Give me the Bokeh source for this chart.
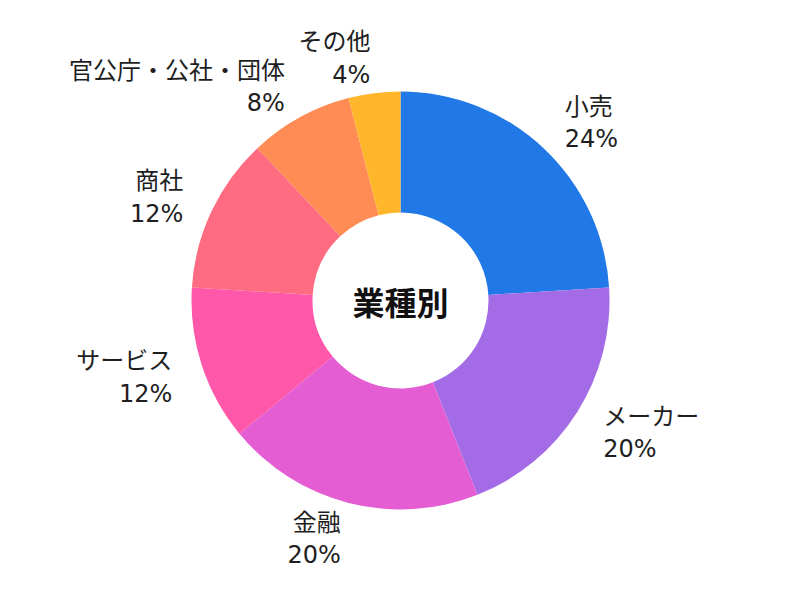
import numpy as np
from bokeh.plotting import figure
from bokeh.models import ColumnDataSource, Range1d
from bokeh.embed import file_html
from bokeh.resources import INLINE
from bokeh.core.properties import value

# ---- data ----
categories = ["小売", "メーカー", "金融", "サービス", "商社", "官公庁・公社・団体", "その他"]
shares = [24, 20, 20, 12, 12, 8, 4]
colors = ["#2079E6", "#A36CE6", "#E45DD3", "#FF57AA", "#FF6B80", "#FF8C55", "#FFB62A"]
center_title = "業種別"

# ---- geometry (pixel-like data units) ----
CX, CY = 400, 300
R_OUT, R_IN = 209, 88
LAB_RX, LAB_RY = 240, 245
LINE_GAP = 17.5
FONT = "Noto Sans CJK JP"
NUM_FONT = "DejaVu Sans"

vals = np.array(shares, dtype=float)
frac = vals / vals.sum()
cum = np.concatenate([[0.0], np.cumsum(frac)])
th0 = cum[:-1] * 2 * np.pi
th1 = cum[1:] * 2 * np.pi
start = np.pi / 2 - th1
end = np.pi / 2 - th0
mid = (th0 + th1) / 2

lx = CX + LAB_RX * np.sin(mid)
ly = CY + LAB_RY * np.cos(mid)
align = ["left" if s >= 0 else "right" for s in np.sin(mid)]
pct = [f"{int(round(f * 100))}%" for f in frac]

wedge_src = ColumnDataSource(dict(start=start, end=end, color=colors))
lab_src = ColumnDataSource(dict(
    x=lx, y1=ly + LINE_GAP, y2=ly - LINE_GAP,
    name=categories, pct=pct, align=align))

p = figure(width=784, height=584, x_range=Range1d(0, 784), y_range=Range1d(16, 600),
           output_backend="svg", toolbar_location=None, min_border=0)
p.axis.visible = False
p.grid.visible = False
p.outline_line_color = None
p.background_fill_color = "white"
p.border_fill_color = "white"

p.annular_wedge(x=CX, y=CY, inner_radius=R_IN, outer_radius=R_OUT,
                start_angle="start", end_angle="end", fill_color="color",
                line_color=None, source=wedge_src)

p.text(x="x", y="y1", text="name", text_align="align", text_baseline="middle",
       text_font=value(FONT), text_font_size="24px", text_color="#1e1e1e", source=lab_src)
p.text(x="x", y="y2", text="pct", text_align="align", text_baseline="middle",
       text_font=value(NUM_FONT), text_font_size="24px", text_color="#1e1e1e", source=lab_src)

p.text(x=[CX], y=[CY], text=[center_title], text_align="center", text_baseline="middle",
       text_font=value(FONT), text_font_size="32px", text_font_style="bold",
       text_color="#111111")

open("out.html", "w").write(file_html(p, INLINE))
